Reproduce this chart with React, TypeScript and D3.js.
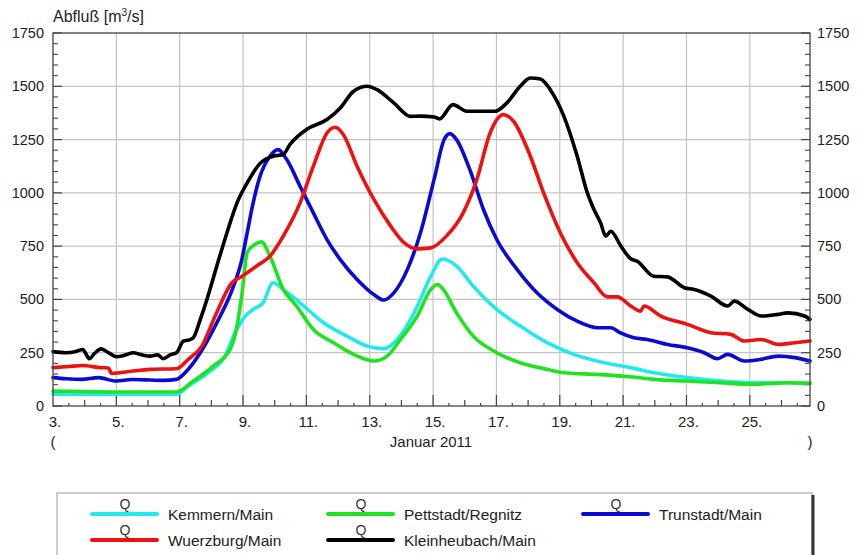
import * as d3 from "d3";

// Abfluss Januar 2011, Tag (3. = 3. Januar) / m3/s
const kemmern: [number, number][] = [
  [3.0, 55], [4, 55], [5, 55], [6, 55], [6.9, 55], [7.27, 94], [7.9, 156], [8.43, 234], [8.75, 344],
  [9.07, 422], [9.32, 453], [9.63, 484], [9.95, 578], [10.27, 547], [10.8, 484], [11.54, 391],
  [12.28, 328], [12.92, 281], [13.44, 269], [13.87, 312], [14.4, 437], [14.93, 609], [15.24, 687],
  [15.32, 690], [15.74, 656], [16.27, 562], [17.01, 453], [17.75, 375], [18.6, 297], [19.44, 242],
  [20.4, 203], [21.24, 180], [21.97, 156], [23.03, 133], [24.09, 117], [25.15, 109], [26.2, 109], [26.9, 106],
];

const pettstadt: [number, number][] = [
  [3.0, 70], [4, 68], [5, 66], [6, 66], [6.9, 66], [7.43, 117], [8.06, 187], [8.59, 265], [8.81, 375],
  [8.97, 531], [9.13, 720], [9.37, 758], [9.58, 770], [9.85, 703], [10.27, 547], [10.69, 469],
  [11.22, 359], [11.86, 297], [12.49, 242], [13.13, 211], [13.55, 234], [13.97, 312], [14.5, 422],
  [14.93, 547], [15.14, 570], [15.32, 547], [15.74, 437], [16.27, 328], [17.01, 250], [17.75, 203],
  [18.6, 172], [19.13, 156], [20.19, 148], [21.24, 137], [21.97, 125], [23.03, 117], [24.09, 109],
  [25.15, 102], [26.2, 109], [26.9, 106],
];

const trunstadt: [number, number][] = [
  [3.0, 133], [3.41, 128], [3.9, 125], [4.44, 133], [5.0, 117], [5.5, 124], [6.06, 122], [6.5, 120],
  [6.9, 125], [7.22, 164], [7.65, 250], [8.17, 390], [8.7, 562], [8.95, 680], [9.13, 812], [9.3, 940],
  [9.53, 1075], [9.85, 1172], [10.11, 1203], [10.38, 1156], [10.8, 1031], [11.22, 906], [11.65, 781],
  [12.07, 687], [12.6, 594], [13.13, 523], [13.44, 497], [13.76, 531], [14.19, 641], [14.6, 812],
  [15.03, 1062], [15.35, 1250], [15.53, 1278], [15.74, 1250], [16.16, 1109], [16.59, 922], [17.01, 781],
  [17.65, 641], [18.28, 531], [18.92, 453], [19.55, 398], [20.19, 367], [20.61, 367], [20.9, 344],
  [21.34, 320], [21.76, 312], [22.4, 289], [23.03, 273], [23.56, 250], [23.98, 222], [24.3, 242],
  [24.83, 211], [25.36, 219], [25.89, 234], [26.42, 227], [26.9, 211],
];

const wuerzburg: [number, number][] = [
  [3.0, 180], [3.5, 185], [3.94, 190], [4.5, 180], [4.75, 178], [4.85, 153], [5.53, 164], [6.06, 172],
  [6.9, 175], [7.27, 219], [7.7, 281], [8.12, 422], [8.65, 578], [8.97, 609], [9.42, 656], [9.85, 703],
  [10.27, 797], [10.8, 953], [11.22, 1125], [11.65, 1281], [11.91, 1308], [12.17, 1273], [12.6, 1125],
  [13.13, 969], [13.66, 844], [14.08, 766], [14.5, 737], [14.93, 742], [15.42, 797], [15.95, 906],
  [16.38, 1062], [16.8, 1281], [17.22, 1367], [17.54, 1336], [18.07, 1172], [18.49, 1000], [19.02, 812],
  [19.55, 672], [20.08, 578], [20.5, 512], [20.82, 512], [21.24, 469], [21.55, 445], [21.66, 469],
  [22.19, 422], [23.03, 383], [23.77, 344], [24.4, 336], [24.83, 305], [25.36, 312], [25.89, 289],
  [26.42, 297], [26.9, 305],
];

const kleinheubach: [number, number][] = [
  [3.0, 255], [3.41, 250], [3.7, 255], [3.94, 265], [4.15, 222], [4.3, 245], [4.52, 268], [4.75, 250],
  [5.0, 231], [5.3, 240], [5.53, 250], [5.8, 240], [6.06, 234], [6.3, 240], [6.48, 222], [6.7, 240],
  [6.9, 250], [7.12, 305], [7.3, 310], [7.43, 320], [7.65, 406], [7.86, 500], [8.17, 656], [8.49, 812],
  [8.81, 953], [9.13, 1047], [9.55, 1140], [9.95, 1172], [10.27, 1180], [10.48, 1227], [11.0, 1297],
  [11.65, 1344], [12.07, 1398], [12.49, 1477], [12.92, 1500], [13.23, 1484], [13.76, 1422], [14.29, 1359],
  [14.6, 1360], [15.03, 1356], [15.2, 1347], [15.63, 1414], [16.06, 1383], [16.96, 1383], [17.33, 1422],
  [17.75, 1500], [18.07, 1539], [18.39, 1534], [18.7, 1484], [19.13, 1359], [19.55, 1172], [19.87, 1000],
  [20.08, 922], [20.29, 859], [20.45, 797], [20.61, 820], [20.93, 750], [21.24, 691], [21.44, 680],
  [21.97, 609], [22.4, 606], [22.93, 555], [23.24, 547], [23.77, 516], [24.3, 469], [24.51, 492],
  [24.94, 453], [25.36, 422], [25.89, 430], [26.2, 437], [26.73, 422], [26.9, 406],
];

const seriesNames = ["Kemmern/Main", "Pettstadt/Regnitz", "Trunstadt/Main", "Wuerzburg/Main", "Kleinheubach/Main"];
const seriesColors = ["#22e8f0", "#1ee31e", "#0a0ad2", "#ee1111", "#000000"];
const seriesData = [kemmern, pettstadt, trunstadt, wuerzburg, kleinheubach];

const yTicks = [0, 250, 500, 750, 1000, 1250, 1500, 1750];
const xLabelDays = [3, 5, 7, 9, 11, 13, 15, 17, 19, 21, 23, 25];

const W = 858;
const H = 555;
const margin = { top: 33, right: 48, bottom: 149, left: 53 };
const font = "'Liberation Sans', Arial, sans-serif";

// legend positions (column x, row y)
const legendCols = [92, 328, 583];
const legendRows = [514, 540];

export default function App() {
  const x = d3.scaleLinear().domain([3, 26.9]).range([margin.left, W - margin.right]);
  const y = d3.scaleLinear().domain([0, 1750]).range([H - margin.bottom, margin.top]);

  const line = d3
    .line<[number, number]>()
    .x((d) => x(d[0]))
    .y((d) => y(d[1]))
    .curve(d3.curveMonotoneX);

  const x0 = x.range()[0];
  const x1 = x.range()[1];
  const y0 = y.range()[0];
  const y1 = y.range()[1];

  const halfDays = d3.range(3.5, 26.9, 0.5);
  const minorY = d3.range(50, 1750, 50).filter((v) => v % 250 !== 0);

  return (
    <svg width={W} height={H} style={{ position: "absolute", left: 0, top: 0, background: "#fff" }} fontFamily={font}>
      {/* grid */}
      {xLabelDays.slice(1).map((d) => (
        <line key={"gx" + d} x1={x(d)} x2={x(d)} y1={y0} y2={y1} stroke="#c4c4c4" strokeWidth={1.2} />
      ))}
      {yTicks.slice(1, -1).map((v) => (
        <line key={"gy" + v} x1={x0} x2={x1} y1={y(v)} y2={y(v)} stroke="#c4c4c4" strokeWidth={1.2} />
      ))}

      {/* ticks bottom */}
      {halfDays.map((d) => {
        const odd = Math.abs(d % 2 - 1) < 1e-6;
        const whole = Math.abs(d - Math.round(d)) < 1e-6;
        const len = odd ? 11 : whole ? 6 : 3;
        return <line key={"tx" + d} x1={x(d)} x2={x(d)} y1={y0} y2={y0 - len} stroke="#444" strokeWidth={1.2} />;
      })}
      {/* ticks left/right */}
      {minorY.map((v) => (
        <g key={"ty" + v}>
          <line x1={x0} x2={x0 + 5} y1={y(v)} y2={y(v)} stroke="#444" strokeWidth={1.1} />
          <line x1={x1} x2={x1 - 5} y1={y(v)} y2={y(v)} stroke="#444" strokeWidth={1.1} />
        </g>
      ))}
      {yTicks.map((v) => (
        <g key={"tm" + v}>
          <line x1={x0} x2={x0 + 9} y1={y(v)} y2={y(v)} stroke="#444" strokeWidth={1.2} />
          <line x1={x1} x2={x1 - 9} y1={y(v)} y2={y(v)} stroke="#444" strokeWidth={1.2} />
        </g>
      ))}

      {/* series */}
      {seriesData.map((data, i) => (
        <path
          key={seriesNames[i]}
          d={line(data) ?? ""}
          fill="none"
          stroke={seriesColors[i]}
          strokeWidth={3.6}
          strokeLinejoin="round"
          strokeLinecap="round"
        />
      ))}

      {/* frame */}
      <rect x={x0} y={y1} width={x1 - x0} height={y0 - y1} fill="none" stroke="#444" strokeWidth={1.3} />

      {/* y labels */}
      {yTicks.map((v) => (
        <g key={"ly" + v} fontSize={14.5} fill="#222">
          <text x={x0 - 9} y={y(v) + 5} textAnchor="end">{v}</text>
          <text x={x1 + 7} y={y(v) + 5} textAnchor="start">{v}</text>
        </g>
      ))}

      {/* x labels */}
      {xLabelDays.map((d) => (
        <text key={"lx" + d} x={x(d) + 2} y={y0 + 21} textAnchor="middle" fontSize={15} fill="#222">
          {d + "."}
        </text>
      ))}
      <text x={x0} y={y0 + 41} textAnchor="middle" fontSize={15} fill="#222">(</text>
      <text x={431} y={y0 + 41} textAnchor="middle" fontSize={15} fill="#222">Januar 2011</text>
      <text x={x1} y={y0 + 41} textAnchor="middle" fontSize={15} fill="#222">)</text>

      {/* title */}
      <text x={x0} y={22} fontSize={16} fill="#222">
        Abfluß [m<tspan dy={-6} fontSize={10}>3</tspan>
        <tspan dy={6}>/s]</tspan>
      </text>

      {/* legend */}
      <rect x={57} y={493} width={755} height={70} fill="#fff" stroke="#aaa" strokeWidth={1.2} />
      <line x1={813} x2={813} y1={495} y2={H} stroke="#333" strokeWidth={3} />
      {seriesNames.map((name, i) => {
        const col = legendCols[i % 3];
        const row = legendRows[Math.floor(i / 3)];
        return (
          <g key={"lg" + name}>
            <line x1={col} x2={col + 65} y1={row} y2={row} stroke={seriesColors[i]} strokeWidth={4} strokeLinecap="round" />
            <text x={col + 33} y={row - 5} textAnchor="middle" fontSize={14} fill="#333">Q</text>
            <text x={col + 76} y={row + 6} fontSize={15.5} fill="#222">{name}</text>
          </g>
        );
      })}
    </svg>
  );
}
